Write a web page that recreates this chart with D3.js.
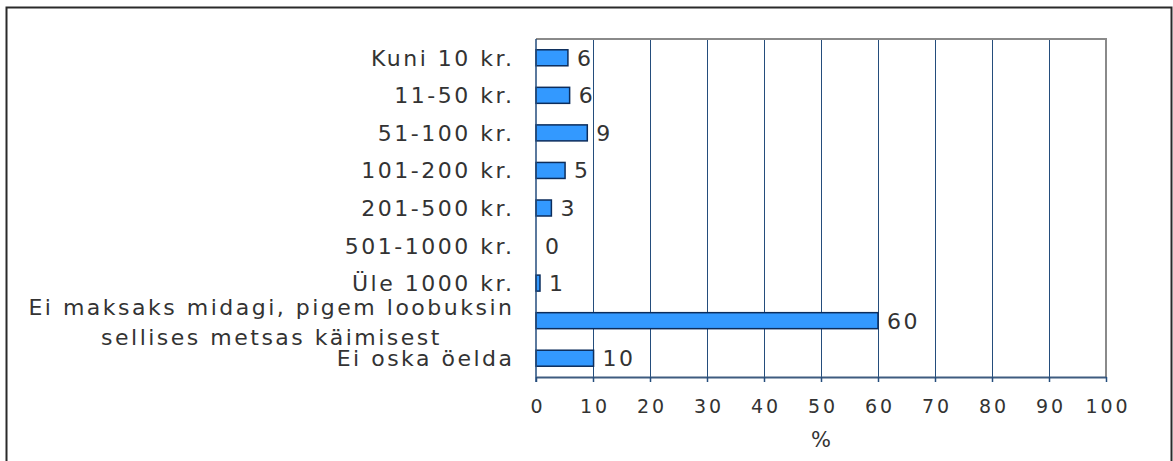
<!DOCTYPE html>
<html>
<head>
<meta charset="utf-8">
<script src="https://cdn.jsdelivr.net/npm/d3@7"></script>
<style>
  body { margin: 0; background: #fff; }
  text { font-family: "DejaVu Sans", Verdana, sans-serif; fill: #333; }
</style>
</head>
<body>
<svg></svg>
<script>
// Chart data
const categories = [
    'Kuni 10 kr.',
    '11-50 kr.',
    '51-100 kr.',
    '101-200 kr.',
    '201-500 kr.',
    '501-1000 kr.',
    'Üle 1000 kr.',
    'Ei maksaks midagi, pigem loobuksin\nsellises metsas käimisest',
    'Ei oska öelda'
];
const values = [5.6, 5.9, 9.0, 5.1, 2.7, 0, 0.7, 60, 10.1];
const tickValues = [0, 10, 20, 30, 40, 50, 60, 70, 80, 90, 100];
const axisTitle = '%';

const width = 1173, height = 461;
const svg = d3.select('svg')
    .attr('width', width)
    .attr('height', height);

// Plot area
const plotLeft = 536, plotRight = 1106, plotTop = 39, plotBottom = 377;
const ls = 2.5;      // letter spacing of the labels
const tickLs = 3;

const x = d3.scaleLinear().domain([0, 100]).range([plotLeft, plotRight]);
const y = d3.scaleBand().domain(categories).range([plotTop, plotBottom]);

// Outer border
svg.append('rect')
    .attr('x', 6.5).attr('y', 7.5)
    .attr('width', 1165).attr('height', 470)
    .attr('fill', 'none')
    .attr('stroke', '#2a2a2a')
    .attr('stroke-width', 2);

// Vertical gridlines
svg.append('g')
    .attr('transform', `translate(0,${plotBottom})`)
    .call(d3.axisBottom(x).tickValues(tickValues.slice(1, -1)).tickSize(-(plotBottom - plotTop)).tickFormat(''))
    .call(g => g.select('.domain').remove())
    .call(g => g.selectAll('.tick line').attr('stroke', '#244d7c').attr('stroke-width', 1));

// Frame top & right (grey)
svg.append('path')
    .attr('d', `M${plotLeft},${plotTop}H${plotRight}V${plotBottom}`)
    .attr('fill', 'none')
    .attr('stroke', '#8a8a8a')
    .attr('stroke-width', 2);

// Bars
svg.append('g').selectAll('rect')
    .data(categories)
    .enter().append('rect')
    .attr('x', x(0))
    .attr('y', d => y(d) + y.bandwidth() / 2 - 8)
    .attr('width', (d, i) => x(values[i]) - x(0))
    .attr('height', 16)
    .attr('fill', '#3399ff')
    .attr('stroke', '#0c2d5c')
    .attr('stroke-width', 1.5);

// Value labels
svg.append('g').selectAll('text')
    .data(categories)
    .enter().append('text')
    .attr('x', (d, i) => x(values[i]) + 9)
    .attr('y', d => y(d) + y.bandwidth() / 2 + 8)
    .style('font-size', '22px')
    .style('letter-spacing', ls + 'px')
    .text((d, i) => d3.format('.0f')(values[i]));

// X axis
const xAxis = svg.append('g')
    .attr('transform', `translate(0,${plotBottom})`)
    .call(d3.axisBottom(x).tickValues(tickValues).tickSize(5).tickSizeOuter(0).tickPadding(0));
xAxis.select('.domain').attr('stroke', '#3f5c80').attr('stroke-width', 2);
xAxis.selectAll('.tick line').attr('stroke', '#244d7c').attr('stroke-width', 1.5);
xAxis.selectAll('.tick text')
    .attr('y', 36).attr('dy', null)
    .attr('dx', tickLs / 2)
    .style('font-size', '19px')
    .style('font-family', '"DejaVu Sans", Verdana, sans-serif')
    .style('letter-spacing', tickLs + 'px')
    .attr('fill', '#333');

// Left axis line
svg.append('line')
    .attr('x1', plotLeft).attr('x2', plotLeft)
    .attr('y1', plotTop).attr('y2', plotBottom + 5)
    .attr('stroke', '#244d7c')
    .attr('stroke-width', 1.5);

// Axis title
svg.append('text')
    .attr('x', (plotLeft + plotRight) / 2)
    .attr('y', 447)
    .attr('text-anchor', 'middle')
    .style('font-size', '21px')
    .text(axisTitle);

// Category labels
const labelRight = 512 + ls;
categories.forEach(c => {
    const lines = c.split('\n');
    const cy = y(c) + y.bandwidth() / 2;
    if (lines.length === 1) {
        svg.append('text')
            .attr('x', labelRight)
            .attr('y', cy + 8)
            .attr('text-anchor', 'end')
            .style('font-size', '22px')
            .style('letter-spacing', ls + 'px')
            .text(c);
    } else {
        const first = svg.append('text')
            .attr('x', labelRight)
            .attr('y', cy - 6)
            .attr('text-anchor', 'end')
            .style('font-size', '22px')
            .style('letter-spacing', ls + 'px')
            .text(lines[0]);
        const w = first.node().getComputedTextLength();
        const mid = labelRight - w / 2;
        svg.append('text')
            .attr('x', mid)
            .attr('y', cy + 24)
            .attr('text-anchor', 'middle')
            .style('font-size', '22px')
            .style('letter-spacing', ls + 'px')
            .text(lines[1]);
    }
});
</script>
</body>
</html>
